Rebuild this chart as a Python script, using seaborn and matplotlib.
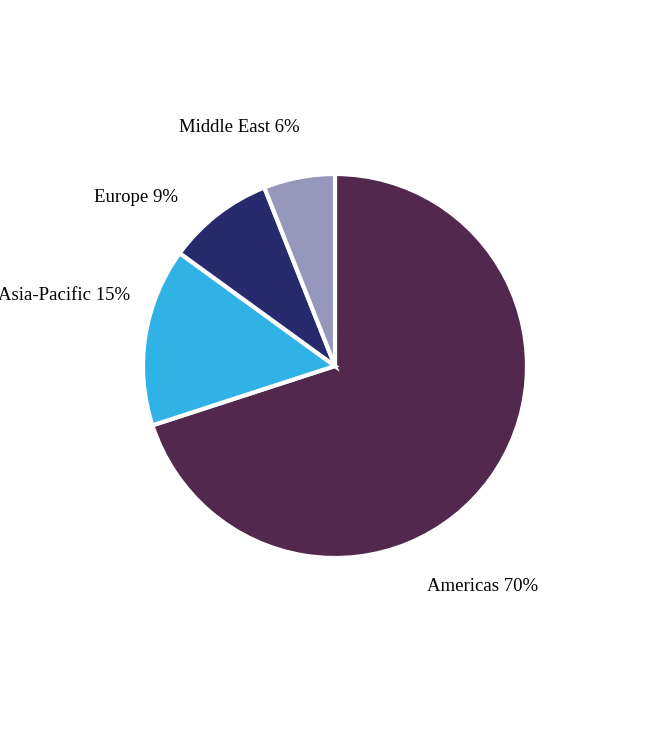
import matplotlib
matplotlib.use("Agg")
import matplotlib.pyplot as plt
import seaborn as sns

# Set Seaborn style
sns.set_theme(style="white")
plt.rcParams['font.family'] = ['Liberation Serif', 'DejaVu Serif']

# Data
regions = ['Americas', 'Asia-Pacific', 'Europe', 'Middle East']
shares = [70, 15, 9, 6]
colors = sns.color_palette(['#52284e', '#31b2e6', '#272b6e', '#9597bb'])

# Label centres, in pie-radius units
label_x = [0.766, -1.41, -1.036, -0.50]
label_y = [-1.151, 0.365, 0.875, 1.24]

fig = plt.figure(figsize=(6.7, 7.32), dpi=100)
ax = fig.add_axes([0, 0, 1, 1])

labels = [f'{r} {s}%' for r, s in zip(regions, shares)]
wedges, texts = ax.pie(shares, labels=labels, colors=colors, startangle=90,
                       counterclock=False, radius=1,
                       wedgeprops={'edgecolor': 'white', 'linewidth': 3},
                       textprops={'fontsize': 13.5, 'color': 'black'})

for t, x, y in zip(texts, label_x, label_y):
    t.set_position((x, y))
    t.set_ha('center')
    t.set_va('center')

ax.set_xlim(-335 / 192, 335 / 192)
ax.set_ylim(-366 / 192, 366 / 192)
ax.set_aspect('equal')
ax.axis('off')

fig.savefig('out.png', dpi=100, facecolor='white')
